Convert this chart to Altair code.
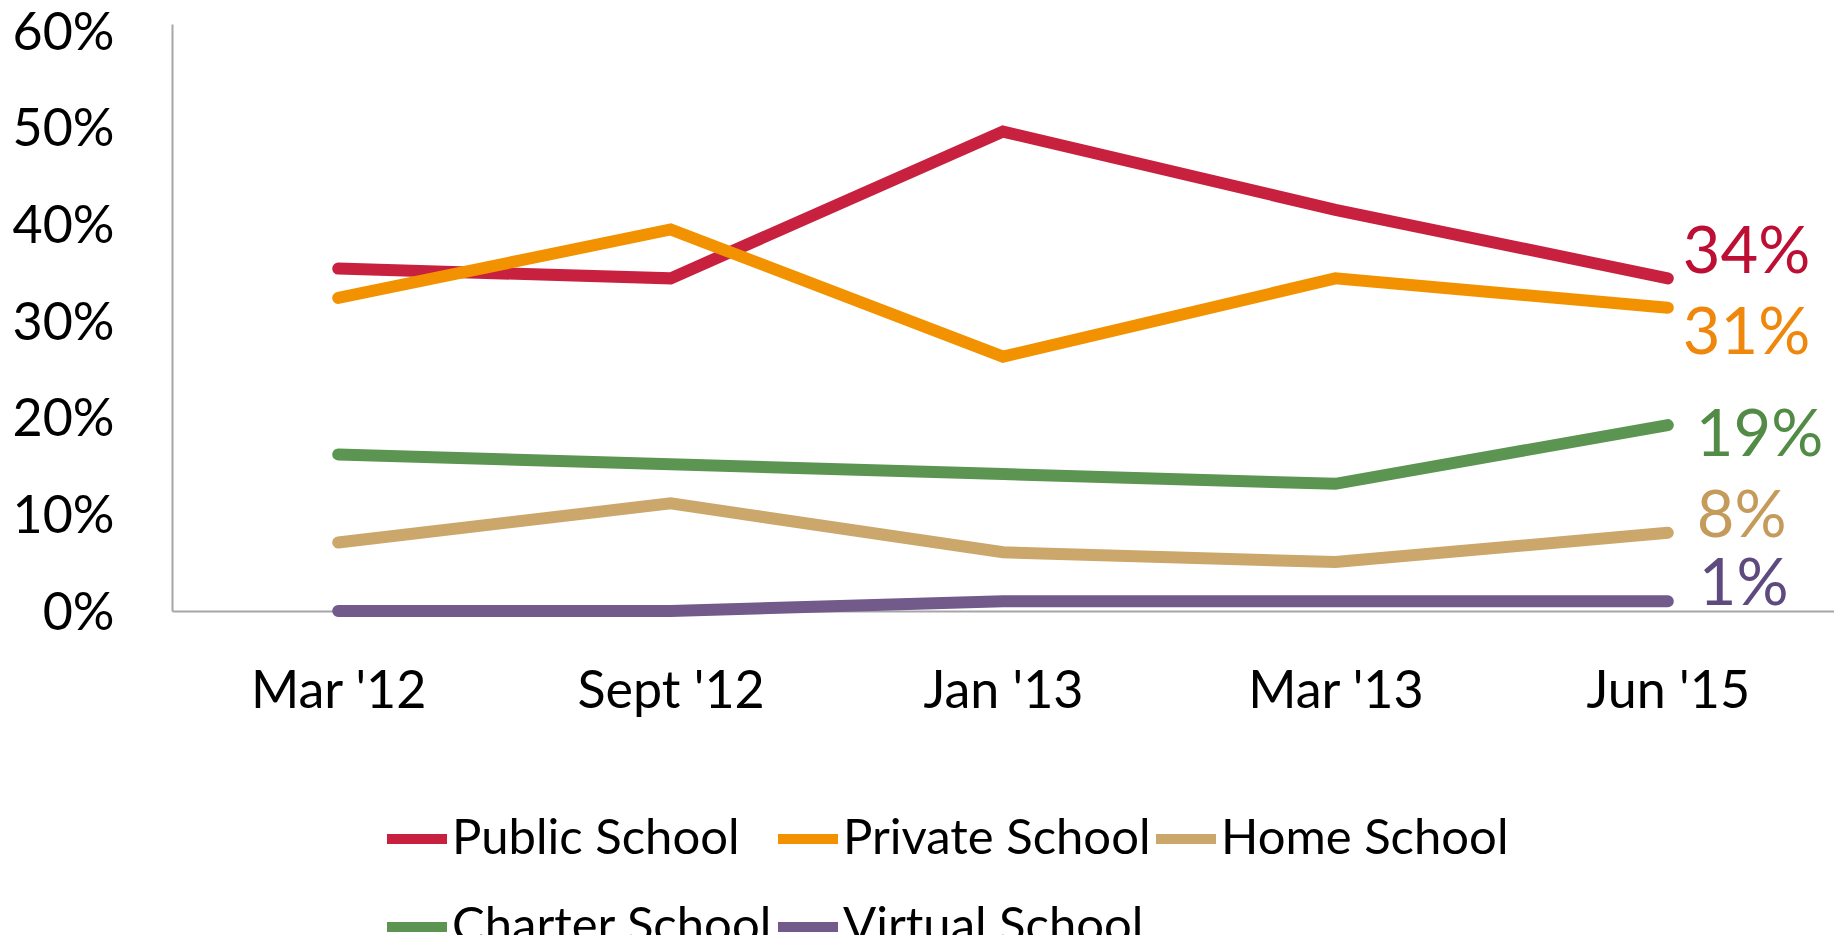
import altair as alt
import pandas as pd

periods = ["Mar '12", "Sept '12", "Jan '13", "Mar '13", "Jun '15"]
series = ["Public School", "Private School", "Home School", "Charter School", "Virtual School"]
public = [35, 34, 49, 41, 34]
private = [32, 39, 26, 34, 31]
home = [7, 11, 6, 5, 8]
charter = [16, 15, 14, 13, 19]
virtual = [0, 0, 1, 1, 1]
y_ticks = [0, 0.1, 0.2, 0.3, 0.4, 0.5, 0.6]

line_colors = ["#C8213F", "#F39200", "#CBA76B", "#5B9551", "#725A8B"]
label_colors = ["#BD0E34", "#F0870D", "#C49B5B", "#528B46", "#5E4A7E"]
# end-label offsets (dx, dy) per series
label_offsets = [(15, -25), (15, 26), (29, -16), (28, 11), (31, -16)]

values = [public, private, home, charter, virtual]
rows = []
for s, vals in zip(series, values):
    for p, v in zip(periods, vals):
        rows.append({"period": p, "series": s, "value": v / 100})
df = pd.DataFrame(rows)

FONT = "Lato"

x = alt.X(
    "period:N",
    sort=periods,
    scale=alt.Scale(type="point", padding=0.5),
    axis=alt.Axis(
        title=None, labelAngle=0, ticks=False, tickSize=0, labelPadding=55,
        labelFont=FONT, labelFontSize=52, labelColor="black", labelLimit=600,
        domainColor="#A6A6A6", domainWidth=2, grid=False,
    ),
)
y = alt.Y(
    "value:Q",
    scale=alt.Scale(domain=[0, 0.6], nice=False),
    axis=alt.Axis(
        title=None, format=".0%", values=y_ticks, ticks=False, tickSize=0,
        grid=False, labelPadding=58, labelOffset={"expr": "2 + 12 * datum.value"},
        labelFont=FONT, labelFontSize=52,
        labelColor="black", domainColor="#A6A6A6", domainWidth=2,
    ),
)
color = alt.Color(
    "series:N",
    sort=series,
    scale=alt.Scale(domain=series, range=line_colors),
    legend=alt.Legend(
        title=None, orient="none", legendX=210, legendY=780,
        direction="horizontal", columns=3, symbolType="stroke",
        symbolStrokeWidth=10, symbolSize=3600, labelFont=FONT,
        labelFontSize=49, labelColor="black", columnPadding=-60, rowPadding=28,
        labelOffset=0, labelLimit=600,
    ),
)

lines = alt.Chart(df).mark_line(strokeWidth=12, strokeCap="round", strokeJoin="miter").encode(
    x=x, y=y, color=color
)

layers = [lines]
for s, c, (dx, dy) in zip(series, label_colors, label_offsets):
    t = (
        alt.Chart(df)
        .transform_filter((alt.datum.series == s) & (alt.datum.period == periods[-1]))
        .mark_text(align="left", baseline="middle", dx=dx, dy=dy, font=FONT, fontSize=65, color=c)
        .encode(
            x=alt.X("period:N", sort=periods),
            y=alt.Y("value:Q"),
            text=alt.Text("value:Q", format=".0%"),
        )
    )
    layers.append(t)

chart = (
    alt.layer(*layers)
    .properties(
        width=1662, height=587,
        autosize=alt.AutoSizeParams(type="none"),
        padding={"left": 164, "top": 16, "right": 0, "bottom": 324},
    )
    .configure_view(stroke=None)
)

chart.save("out.html", embed_options={"renderer": "svg", "actions": False})
